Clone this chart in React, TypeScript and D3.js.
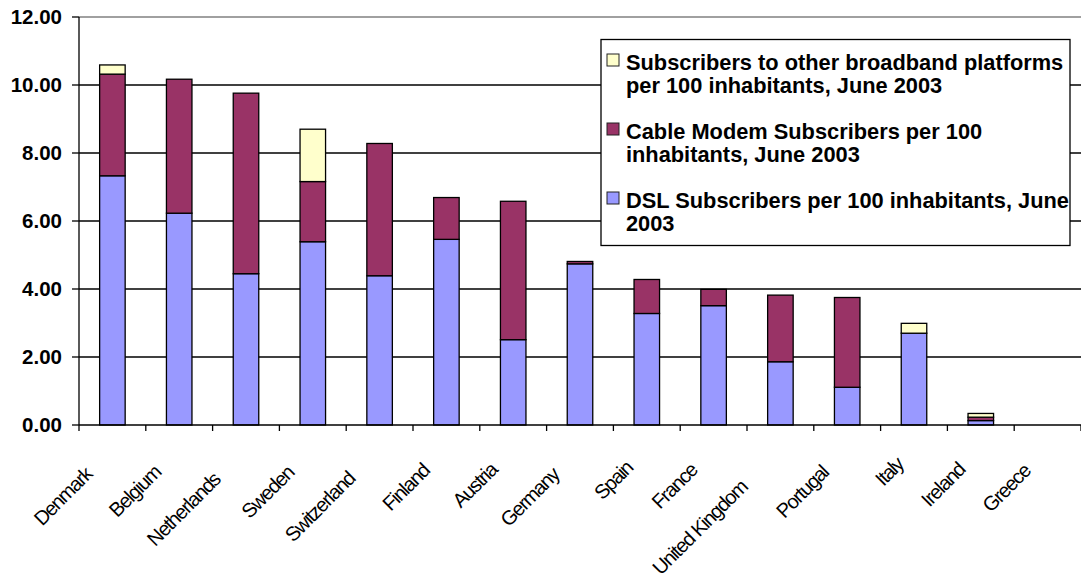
import React, { useEffect, useRef } from 'react';
import * as d3 from 'd3';

// Broadband subscribers per 100 inhabitants, June 2003
const countries = [
  'Denmark', 'Belgium', 'Netherlands', 'Sweden', 'Switzerland', 'Finland', 'Austria',
  'Germany', 'Spain', 'France', 'United Kingdom', 'Portugal', 'Italy', 'Ireland', 'Greece',
];
const dslPer100 = [7.33, 6.23, 4.45, 5.39, 4.39, 5.46, 2.51, 4.74, 3.28, 3.51, 1.86, 1.11, 2.70, 0.13, 0];
const cablePer100 = [2.99, 3.94, 5.31, 1.77, 3.89, 1.23, 4.07, 0.07, 1.00, 0.48, 1.96, 2.64, 0, 0.10, 0];
const otherPer100 = [0.27, 0, 0, 1.54, 0, 0, 0, 0, 0, 0, 0, 0, 0.29, 0.11, 0];

const yTicks = [0, 2, 4, 6, 8, 10, 12];

const seriesKeys = ['dsl', 'cable', 'other'];
const seriesColors = ['#9999FF', '#993366', '#FFFFCC'];
// legend lists the series top of stack first
const legendItems = [
  { color: '#FFFFCC', lines: ['Subscribers to other broadband platforms', 'per 100 inhabitants, June 2003'] },
  { color: '#993366', lines: ['Cable Modem Subscribers per 100', 'inhabitants, June 2003'] },
  { color: '#9999FF', lines: ['DSL Subscribers per 100 inhabitants, June', '2003'] },
];

const FONT = "Arial, 'Liberation Sans', sans-serif";

export default function App() {
  const ref = useRef<SVGSVGElement>(null);

  useEffect(() => {
    const svg = d3.select(ref.current);
    svg.selectAll('*').remove();

    const left = 79, right = 1081, top = 17, bottom = 425;

    const x = d3.scaleBand<string>()
      .domain(countries)
      .range([left, right])
      .paddingInner(0.618)
      .paddingOuter(0.309);
    const step = x.step();
    const y = d3.scaleLinear().domain([0, 12]).range([bottom, top]);

    // horizontal gridlines
    svg.append('g')
      .selectAll('line')
      .data(yTicks.filter((t) => t > 0))
      .join('line')
      .attr('x1', left).attr('x2', right)
      .attr('y1', (d) => y(d)).attr('y2', (d) => y(d))
      .attr('stroke', (d) => (d === 12 ? '#808080' : '#000'))
      .attr('stroke-width', 1.3);

    // stacked bars
    const rows = countries.map((c, i) => ({
      country: c, dsl: dslPer100[i], cable: cablePer100[i], other: otherPer100[i],
    }));
    const layers = d3.stack<any>().keys(seriesKeys)(rows);
    const barG = svg.append('g');
    layers.forEach((layer, li) => {
      barG.append('g')
        .selectAll('rect')
        .data(layer.filter((d) => d[1] - d[0] > 0))
        .join('rect')
        .attr('x', (d) => x(d.data.country) as number)
        .attr('width', x.bandwidth())
        .attr('y', (d) => y(d[1]))
        .attr('height', (d) => y(d[0]) - y(d[1]))
        .attr('fill', seriesColors[li])
        .attr('stroke', '#000')
        .attr('stroke-width', 1.3);
    });

    // axes
    const axG = svg.append('g').attr('stroke', '#000').attr('stroke-width', 1.3);
    axG.append('line').attr('x1', left).attr('x2', left).attr('y1', top).attr('y2', bottom);
    axG.append('line').attr('x1', left).attr('x2', right).attr('y1', bottom).attr('y2', bottom);
    axG.selectAll('line.yt').data(yTicks).join('line').attr('class', 'yt')
      .attr('x1', left - 7).attr('x2', left)
      .attr('y1', (d) => y(d)).attr('y2', (d) => y(d));
    axG.selectAll('line.xt').data(d3.range(countries.length + 1)).join('line').attr('class', 'xt')
      .attr('x1', (i) => left + i * step).attr('x2', (i) => left + i * step)
      .attr('y1', bottom).attr('y2', bottom + 6);

    // y tick labels
    svg.append('g')
      .selectAll('text')
      .data(yTicks)
      .join('text')
      .attr('x', 62)
      .attr('y', (d) => y(d))
      .attr('dy', '0.36em')
      .attr('text-anchor', 'end')
      .attr('font-family', FONT)
      .attr('font-weight', 'bold')
      .attr('font-size', 20.5)
      .attr('fill', '#000')
      .text((d) => d3.format('.2f')(d));

    // rotated category labels: the label's end sits back along the text
    // direction from a fixed point under each category
    const c45 = Math.SQRT1_2;
    const xlG = svg.append('g');
    countries.forEach((c) => {
      const t = xlG.append('text')
        .attr('font-family', FONT)
        .attr('font-size', 20)
        .attr('letter-spacing', -1.3)
        .attr('fill', '#000')
        .attr('text-anchor', 'start')
        .text(c);
      const L = (t.node() as SVGTextElement).getComputedTextLength();
      const px = (x(c) as number) + x.bandwidth() / 2 - 2;
      const py = 458.5;
      const sx = px - 1.34 * L * c45;
      const sy = py + 1.34 * L * c45;
      t.attr('transform', `translate(${sx},${sy}) rotate(-45)`);
    });

    // legend
    const lg = svg.append('g');
    lg.append('rect')
      .attr('x', 601).attr('y', 39.5).attr('width', 469).attr('height', 206)
      .attr('fill', '#fff').attr('stroke', '#000').attr('stroke-width', 1.3);
    legendItems.forEach((item, i) => {
      const base = 70 + i * 69;
      lg.append('rect')
        .attr('x', 607).attr('y', base - 16).attr('width', 12).attr('height', 12)
        .attr('fill', item.color).attr('stroke', '#222').attr('stroke-width', 1);
      item.lines.forEach((ln, j) => {
        lg.append('text')
          .attr('x', 626).attr('y', base + j * 23.3)
          .attr('font-family', FONT)
          .attr('font-weight', 'bold')
          .attr('font-size', 21.8)
          .attr('fill', '#000')
          .text(ln);
      });
    });
  }, []);

  return (
    <svg
      ref={ref}
      width={1081}
      height={576}
      style={{ position: 'absolute', left: 0, top: 0, background: '#fff' }}
    />
  );
}
